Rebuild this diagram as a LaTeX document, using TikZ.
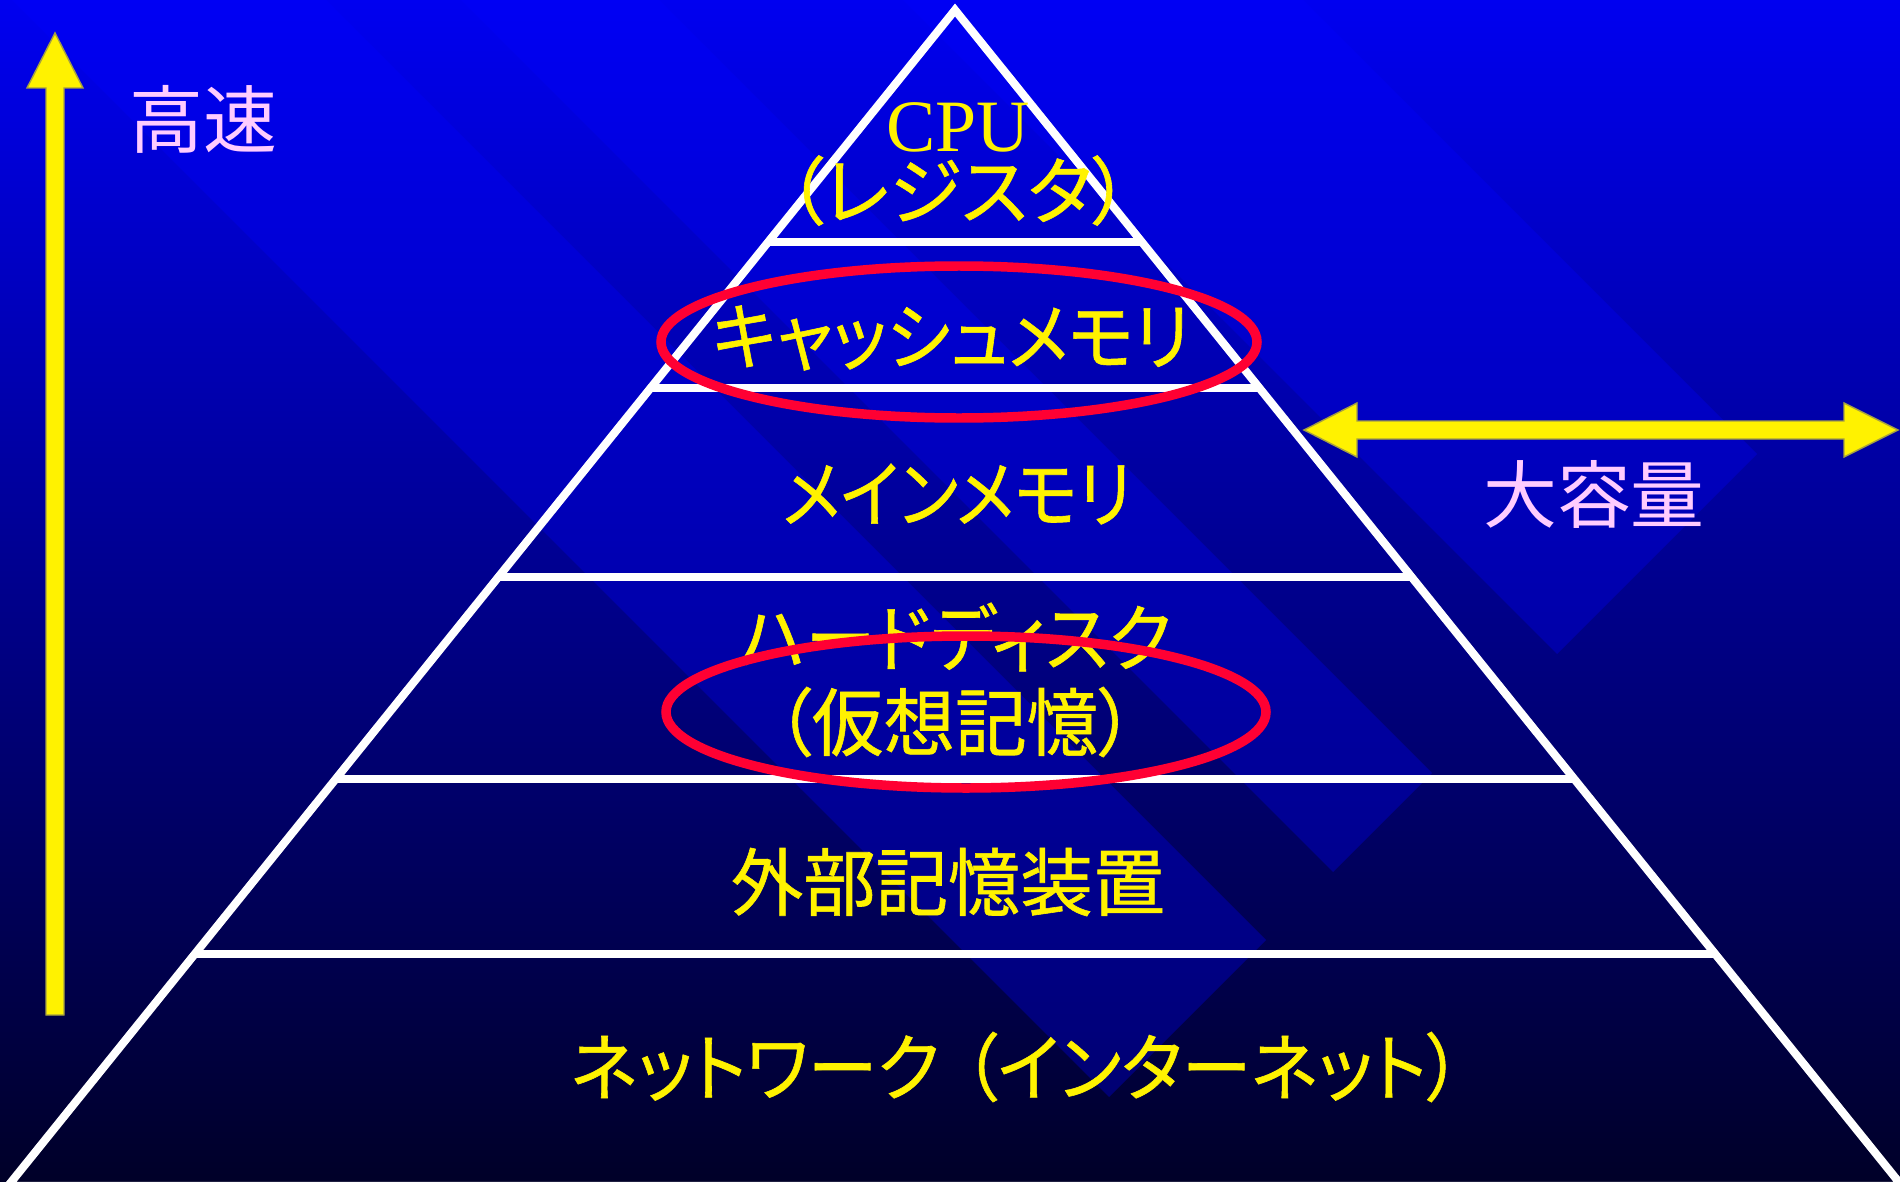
\documentclass[tikz,border=0pt]{standalone}
\usepackage{graphicx}
\usepackage{fontspec}
\setmainfont{Liberation Serif}
\newfontfamily\jpfont{Noto Sans CJK JP}[RawFeature=+palt]
\newfontfamily\jpheavy{Noto Sans CJK JP}[RawFeature=+palt,FakeBold=0.8]
\newcommand{\squeeze}[2]{\scalebox{#1}[1]{#2}}
\definecolor{pinkish}{RGB}{255,204,255}
\definecolor{ringred}{RGB}{255,0,51}
\definecolor{skytop}{RGB}{0,0,240}
\definecolor{skymid}{RGB}{0,0,175}
\definecolor{skybot}{RGB}{0,0,40}
\tikzset{
  lvl/.style={text=yellow,font=\jpheavy\fontsize{21}{18}\selectfont,inner sep=0pt,align=center},
  axistext/.style={text=pinkish,font=\jpfont\fontsize{21}{25}\selectfont,inner sep=0pt},
  tier/.style={draw=white,line width=2.3pt},
  ring/.style={draw=ringred,line width=2.7pt},
  band/.style={fill=blue,fill opacity=0.3},
  bigarrow/.style={fill=yellow,draw=yellow!60!black,line width=0.4pt}
}
\begin{document}
\begin{tikzpicture}[x=0.01cm,y=-0.01cm]
\useasboundingbox (0,0) rectangle (1900,1182);
% background
\fill[top color=skytop,middle color=skymid,bottom color=skybot] (0,0) rectangle (1900,1182);
\begin{scope}
\clip (0,0) rectangle (1900,1182);
\fill[band] (284,-619) -- (1557,654) -- (1757,454) -- (484,-819) -- cycle;
\fill[band] (60,-401) -- (1333,872) -- (1432,773) -- (159,-500) -- cycle;
\fill[band] (-164,-176) -- (1109,1097) -- (1266,940) -- (-7,-333) -- cycle;
\end{scope}
% pyramid
\coordinate (apex) at (955,10);
\coordinate (bl) at (8,1186);
\coordinate (br) at (1902,1186);
\draw[tier,line join=miter] (bl) -- (apex) -- (br) -- cycle;
\draw[tier] (768,242) -- (1142,242);
\draw[tier] (650,388) -- (1260,388);
\draw[tier] (498,577) -- (1412,577);
\draw[tier] (336,779) -- (1574,779);
\draw[tier] (195,954) -- (1715,954);
% levels
\node[lvl] (cpu) at (958,164) {{\rmfamily CPU}\\（レジスタ）};
\node[lvl] (cache) at (951,338) {\squeeze{0.93}{キャッシュメモリ}};
\node[lvl] (main) at (957,494) {\squeeze{0.9}{メインメモリ}};
\node[lvl] (hdd) at (955,637) {\squeeze{0.95}{ハードディスク}};
\node[lvl] (virt) at (955,722) {\squeeze{0.97}{（仮想記憶）}};
\node[lvl] (ext) at (948,882) {\squeeze{0.98}{外部記憶装置}};
\node[lvl] (net) at (1016,1067) {\squeeze{0.945}{ネットワーク\hspace{7pt}（インターネット）}};
% axes
\fill[bigarrow] (46,1015) -- (64,1015) -- (64,88) -- (83,88) -- (55,33) -- (27,88) -- (46,88) -- cycle;
\node[axistext] (fast) at (203,119) {高速};
\fill[bigarrow] (1304,430) -- (1357,403) -- (1357,421) -- (1844,421) -- (1844,403) -- (1898,430)
  -- (1844,457) -- (1844,439) -- (1357,439) -- (1357,457) -- cycle;
\node[axistext] (large) at (1594,494) {大容量};
% marks
\draw[ring] (959,342) ellipse (298 and 76);
\draw[ring] (966,712) ellipse (300 and 76);
\end{tikzpicture}
\end{document}
